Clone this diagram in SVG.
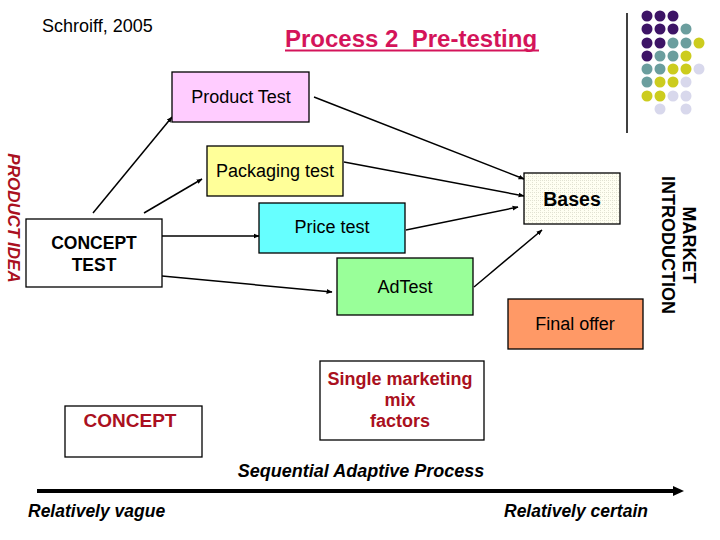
<svg xmlns="http://www.w3.org/2000/svg" width="720" height="540" viewBox="0 0 720 540">
<defs>
<style>
text{font-family:"Liberation Sans",Arial,sans-serif;fill:#000}
.box{stroke:#000;stroke-width:1.3}
.lbl{font-size:18px;text-anchor:middle}
.b{font-weight:bold}
.red{fill:#AA1020}
.conn line{stroke:#000;stroke-width:1.5;marker-end:url(#ah)}
.dP{fill:#3D1466}.dT{fill:#6B9E9E}.dY{fill:#CCCC1E}.dL{fill:#D8D8EC}
</style>
<marker id="ah" viewBox="0 0 10 10" refX="9" refY="5" markerWidth="6" markerHeight="6" orient="auto" markerUnits="userSpaceOnUse">
<path d="M0,1 L10,5 L0,9 Z" fill="#000"/>
</marker>
<pattern id="grid" width="4" height="4" patternUnits="userSpaceOnUse">
<rect width="4" height="4" fill="#FFFFF2"/>
<path d="M0,0.5 H4 M0.5,0 V4" stroke="#E2E2D2" stroke-width="1" stroke-dasharray="1,1"/>
</pattern>
</defs>
<rect width="720" height="540" fill="#fff"/>

<text x="42" y="32" font-size="18">Schroiff, 2005</text>
<g id="title">
<text x="285" y="47" font-size="24" class="b" style="fill:#D4145A;white-space:pre" xml:space="preserve">Process 2  Pre-testing</text>
<line x1="285" y1="50.5" x2="539" y2="50.5" stroke="#D4145A" stroke-width="2"/>
</g>

<g id="decor">
<line x1="627" y1="13" x2="627" y2="133" stroke="#000" stroke-width="1.5"/>
<g>
<circle cx="647" cy="16" r="5.5" class="dP"/><circle cx="660" cy="16" r="5.5" class="dP"/><circle cx="673" cy="16" r="5.5" class="dP"/>
<circle cx="647" cy="29" r="5.5" class="dP"/><circle cx="660" cy="29" r="5.5" class="dP"/><circle cx="673" cy="29" r="5.5" class="dP"/><circle cx="686" cy="29" r="5.5" class="dT"/>
<circle cx="647" cy="43" r="5.5" class="dP"/><circle cx="660" cy="43" r="5.5" class="dP"/><circle cx="673" cy="43" r="5.5" class="dT"/><circle cx="686" cy="43" r="5.5" class="dT"/><circle cx="699" cy="43" r="5.5" class="dY"/>
<circle cx="647" cy="56" r="5.5" class="dP"/><circle cx="660" cy="56" r="5.5" class="dT"/><circle cx="673" cy="56" r="5.5" class="dT"/><circle cx="686" cy="56" r="5.5" class="dY"/>
<circle cx="647" cy="69" r="5.5" class="dT"/><circle cx="660" cy="69" r="5.5" class="dT"/><circle cx="673" cy="69" r="5.5" class="dY"/><circle cx="686" cy="69" r="5.5" class="dY"/><circle cx="699" cy="69" r="5.5" class="dL"/>
<circle cx="647" cy="82" r="5.5" class="dT"/><circle cx="660" cy="82" r="5.5" class="dY"/><circle cx="673" cy="82" r="5.5" class="dY"/><circle cx="686" cy="82" r="5.5" class="dL"/>
<circle cx="647" cy="96" r="5.5" class="dY"/><circle cx="660" cy="96" r="5.5" class="dY"/><circle cx="673" cy="96" r="5.5" class="dL"/><circle cx="686" cy="96" r="5.5" class="dL"/>
<circle cx="660" cy="109" r="5.5" class="dL"/><circle cx="686" cy="109" r="5.5" class="dL"/>
</g>
</g>

<g id="product-idea">
<text transform="translate(8,218) rotate(90)" font-size="17" text-anchor="middle" class="b red" font-style="italic">PRODUCT IDEA</text>
</g>
<g id="market-intro">
<text transform="translate(683,245) rotate(90)" font-size="18" text-anchor="middle" class="b">MARKET</text>
<text transform="translate(662,245) rotate(90)" font-size="18" text-anchor="middle" class="b">INTRODUCTION</text>
</g>

<g class="conn" id="connectors">
<line x1="93" y1="213" x2="172" y2="117"/>
<line x1="144" y1="213" x2="202" y2="179"/>
<line x1="162" y1="236" x2="259" y2="236"/>
<line x1="162" y1="276" x2="332" y2="292"/>
<line x1="314" y1="97" x2="524" y2="179"/>
<line x1="344" y1="162" x2="524" y2="196"/>
<line x1="406" y1="230" x2="518" y2="207"/>
<line x1="474" y1="287" x2="542" y2="230"/>
</g>

<g id="product-test">
<rect x="172" y="72" width="137" height="50" fill="#FFCCFF" class="box"/>
<text x="241" y="103" class="lbl">Product Test</text>
</g>
<g id="packaging-test">
<rect x="207" y="146" width="136" height="50" fill="#FFFF99" class="box"/>
<text x="275" y="177" class="lbl">Packaging test</text>
</g>
<g id="price-test">
<rect x="259" y="203" width="146" height="50" fill="#66FFFF" class="box"/>
<text x="332" y="233" class="lbl">Price test</text>
</g>
<g id="concept-test">
<rect x="26" y="219" width="136" height="68" fill="#fff" class="box"/>
<text x="94" y="249" class="lbl b" style="font-size:17.5px">CONCEPT</text>
<text x="94" y="271" class="lbl b" style="font-size:17.5px">TEST</text>
</g>
<g id="ad-test">
<rect x="337" y="258" width="136" height="57" fill="#99FF99" class="box"/>
<text x="405" y="293" class="lbl">AdTest</text>
</g>
<g id="bases">
<rect x="524" y="173" width="96" height="51" fill="url(#grid)" class="box"/>
<text x="572" y="206" class="lbl b" style="font-size:19.5px">Bases</text>
</g>
<g id="final-offer">
<rect x="508" y="299" width="135" height="50" fill="#FF9966" class="box"/>
<text x="575" y="330" class="lbl">Final offer</text>
</g>

<g id="concept">
<rect x="65" y="406" width="137" height="51" fill="#fff" class="box"/>
<text x="130" y="427" class="lbl b red" style="font-size:19px">CONCEPT</text>
</g>
<g id="single-mix">
<rect x="320" y="361" width="164" height="79" fill="#fff" class="box"/>
<text x="400" y="385" class="lbl b red">Single marketing</text>
<text x="400" y="406" class="lbl b red">mix</text>
<text x="400" y="427" class="lbl b red">factors</text>
</g>

<g id="axis">
<text x="361" y="477" font-size="18" text-anchor="middle" class="b" font-style="italic">Sequential Adaptive Process</text>
<line x1="37" y1="491" x2="676" y2="491" stroke="#000" stroke-width="4"/>
<path d="M673,486 L684,491 L673,496 Z" fill="#000"/>
<text x="28" y="517" font-size="17.5" class="b" font-style="italic">Relatively vague</text>
<text x="504" y="517" font-size="17.5" class="b" font-style="italic">Relatively certain</text>
</g>
</svg>
